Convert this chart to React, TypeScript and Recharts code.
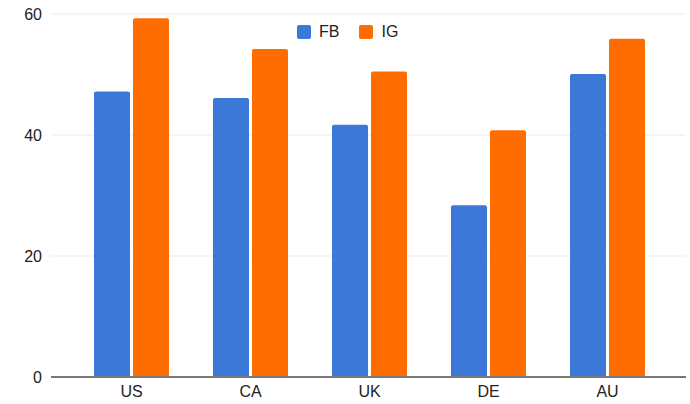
import React from "react";
import { Bar, BarChart, CartesianGrid, Legend, XAxis, YAxis } from "recharts";

const countries = ["US", "CA", "UK", "DE", "AU"];
const fbValues = [47.2, 46.1, 41.7, 28.4, 50.1];
const igValues = [59.3, 54.2, 50.5, 40.8, 55.9];
const yTicks = [0, 20, 40, 60];

const FB_COLOR = "#3c78d8";
const IG_COLOR = "#ff6d01";
const FONT = "Arial, 'Liberation Sans', sans-serif";

const data = countries.map((name, i) => ({ name, FB: fbValues[i], IG: igValues[i] }));

const LegendContent = () => (
  <div style={{ display: "flex", alignItems: "center", fontFamily: FONT, fontSize: 16, color: "#222" }}>
    {[
      { label: "FB", color: FB_COLOR },
      { label: "IG", color: IG_COLOR },
    ].map((item) => (
      <div key={item.label} style={{ display: "flex", alignItems: "center", marginRight: 20 }}>
        <span style={{ width: 14, height: 14, background: item.color, borderRadius: 2, marginRight: 8 }} />
        <span>{item.label}</span>
      </div>
    ))}
  </div>
);

const App = () => {
  return (
    <div style={{ position: "absolute", left: 0, top: 0 }}>
      <BarChart
        width={690}
        height={404}
        data={data}
        margin={{ top: 14, right: 4, bottom: 0, left: 0 }}
        barCategoryGap={22}
        barGap={3}
      >
        <CartesianGrid vertical={false} stroke="#ebebeb" />
        <XAxis
          dataKey="name"
          height={27}
          padding={{ left: 21, right: 19 }}
          tickLine={false}
          tickMargin={3}
          axisLine={{ stroke: "#777", strokeWidth: 2 }}
          tick={{ fill: "#222", fontSize: 16, fontFamily: FONT }}
        />
        <YAxis
          width={51}
          domain={[0, 60]}
          ticks={yTicks}
          tickLine={false}
          axisLine={false}
          tickMargin={3}
          tick={{ fill: "#222", fontSize: 16, fontFamily: FONT }}
        />
        <Legend
          verticalAlign="middle"
          content={<LegendContent />}
          wrapperStyle={{ top: 23, left: 297, width: "auto" }}
        />
        <Bar dataKey="FB" fill={FB_COLOR} radius={[2, 2, 0, 0]} isAnimationActive={false} />
        <Bar dataKey="IG" fill={IG_COLOR} radius={[2, 2, 0, 0]} isAnimationActive={false} />
      </BarChart>
    </div>
  );
};

export default App;
